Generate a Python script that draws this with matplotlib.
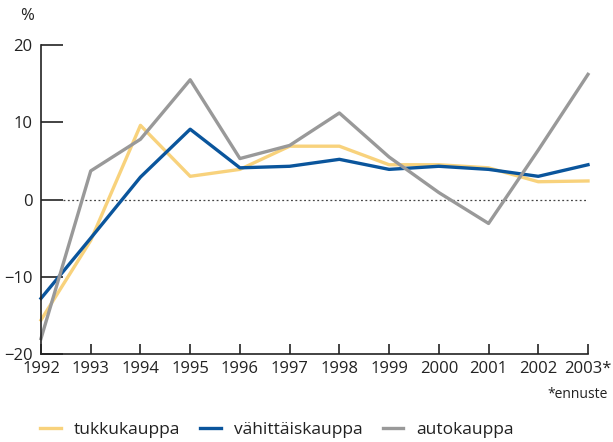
import matplotlib.pyplot as plt
import numpy as np

#----------Datos----------#
years = [1992, 1993, 1994, 1995, 1996, 1997, 1998, 1999, 2000, 2001, 2002, 2003]
year_labels = ['1992', '1993', '1994', '1995', '1996', '1997', '1998', '1999',
               '2000', '2001', '2002', '2003*']
tukkukauppa = [-15.6, -5.3, 9.6, 3.0, 3.9, 6.9, 6.9, 4.5, 4.5, 4.1, 2.3, 2.4]
vahittaiskauppa = [-12.8, -5.0, 2.9, 9.1, 4.1, 4.3, 5.2, 3.9, 4.3, 3.9, 3.0, 4.5]
autokauppa = [-18.0, 3.7, 7.8, 15.5, 5.3, 7.0, 11.2, 5.5, 0.9, -3.1, 6.4, 16.2]

#----------Grafico----------#
plt.rcParams['font.family'] = ['Open Sans', 'DejaVu Sans']
fig = plt.figure(figsize=(6.13, 4.42), dpi=100)
ax = fig.add_axes([41/613, 1 - 354/442, (588 - 41)/613, (354 - 45)/442])

ax.plot(years, tukkukauppa, color='#f8d27c', lw=2.4, label='tukkukauppa', clip_on=False)
ax.plot(years, vahittaiskauppa, color='#0a559c', lw=2.4, label='vähittäiskauppa', clip_on=False)
ax.plot(years, autokauppa, color='#999999', lw=2.4, label='autokauppa', clip_on=False)

# linea de cero punteada
ax.plot([1992.45, 2002.95], [0, 0], color='#444444', lw=0.9, ls=(0, (1.5, 2.0)), zorder=0)

ax.set_xlim(1992, 2003)
ax.set_ylim(-20, 20)
ax.set_xticks(years)
ax.set_xticklabels(year_labels)
ax.set_yticks([-20, -10, 0, 10, 20])
ax.set_yticklabels(['\u221220', '\u221210', '0', '10', '20'])

for s in ['top', 'right']:
    ax.spines[s].set_visible(False)
for s in ['left', 'bottom']:
    ax.spines[s].set_color('#222222')
    ax.spines[s].set_linewidth(1.2)

ax.tick_params(axis='y', direction='in', length=16, width=1.2, color='#222222',
               pad=6, labelsize=12, labelcolor='#222222')
ax.tick_params(axis='x', direction='in', length=7, width=1.2, color='#222222',
               pad=5, labelsize=12, labelcolor='#222222')

fig.text(20/613, 1 - 16/442, '%', fontsize=12, color='#222222', va='center', ha='left')
fig.text(608/613, 1 - 394/442, '*ennuste', fontsize=10, color='#222222', va='center', ha='right')

fig.legend(loc='center left', bbox_to_anchor=(33/613, 1 - 430/442), ncol=3, frameon=False,
           fontsize=12.5, handlelength=1.2, columnspacing=1.15, handletextpad=0.75,
           labelcolor='#222222', borderaxespad=0)

fig.savefig('out.png', dpi=100)
